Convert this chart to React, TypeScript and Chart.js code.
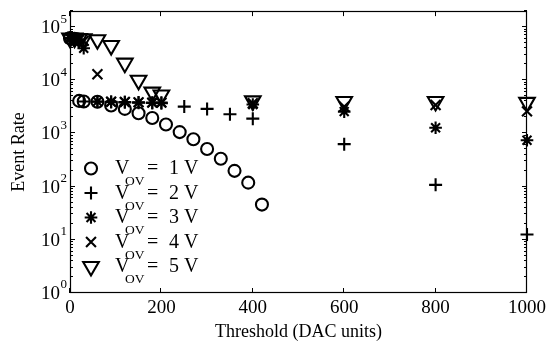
import React, { useEffect, useRef } from 'react';
import { Chart, registerables } from 'chart.js';

Chart.register(...registerables);

// ---- Data ----
const xV1 = [0, 10, 20, 30, 60, 90, 120, 150, 180, 210, 240, 270, 300, 330, 360, 390, 420];
const yV1 = [62000, 60000, 4100, 4000, 3950, 3350, 2900, 2400, 1950, 1470, 1060, 780, 510, 334, 198, 119, 46];

const xV2 = [0, 10, 20, 30, 60, 90, 120, 150, 180, 200, 250, 300, 350, 400, 600, 800, 1000];
const yV2 = [62000, 61000, 57000, 4000, 3950, 3900, 3850, 3800, 3750, 3700, 3200, 2900, 2300, 1900, 630, 108, 12.6];

const xV3 = [0, 10, 20, 30, 60, 90, 120, 150, 180, 200, 400, 600, 800, 1000];
const yV3 = [62000, 61000, 58000, 40000, 4000, 3950, 3900, 3850, 3800, 3800, 3500, 2580, 1280, 746];

const xV4 = [0, 10, 20, 30, 60, 90, 120, 150, 180, 200, 400, 600, 800, 1000];
const yV4 = [62000, 61000, 59000, 55000, 13000, 3950, 3900, 3850, 3800, 3800, 3700, 3200, 3430, 2600];

const xV5 = [0, 10, 20, 30, 60, 90, 120, 150, 180, 200, 400, 600, 800, 1000];
const yV5 = [62000, 62000, 61000, 60000, 58000, 45000, 21000, 10000, 6000, 5300, 4100, 4000, 4000, 3850];

const legendVolts = ['1', '2', '3', '4', '5'];
const xTickStep = 200;
const xMin = 0;
const xMax = 1000;
const yMin = 1;
const yMax = 200000;
const yExponents = [0, 1, 2, 3, 4, 5];

const SERIF = '"Liberation Serif", "DejaVu Serif", serif';
const MARKER_LW = 2.1;

type Marker = { style: string; radius: number; rotation: number };
const markers: Marker[] = [
  { style: 'circle', radius: 6, rotation: 0 },
  { style: 'cross', radius: 6.5, rotation: 0 },
  { style: 'star', radius: 6.3, rotation: 0 },
  { style: 'crossRot', radius: 7, rotation: 0 },
  { style: 'triangle', radius: 9, rotation: 180 },
];

function drawMarker(ctx: CanvasRenderingContext2D, m: Marker, x: number, y: number) {
  const r = m.radius;
  ctx.beginPath();
  if (m.style === 'circle') {
    ctx.arc(x, y, r, 0, Math.PI * 2);
  } else if (m.style === 'cross') {
    ctx.moveTo(x - r, y); ctx.lineTo(x + r, y);
    ctx.moveTo(x, y - r); ctx.lineTo(x, y + r);
  } else if (m.style === 'crossRot') {
    const d = r * Math.SQRT1_2;
    ctx.moveTo(x - d, y - d); ctx.lineTo(x + d, y + d);
    ctx.moveTo(x + d, y - d); ctx.lineTo(x - d, y + d);
  } else if (m.style === 'star') {
    ctx.moveTo(x - r, y); ctx.lineTo(x + r, y);
    ctx.moveTo(x, y - r); ctx.lineTo(x, y + r);
    const d = r * Math.SQRT1_2;
    ctx.moveTo(x - d, y - d); ctx.lineTo(x + d, y + d);
    ctx.moveTo(x + d, y - d); ctx.lineTo(x - d, y + d);
  } else if (m.style === 'triangle') {
    let rad = Math.PI;
    ctx.moveTo(x + Math.sin(rad) * r, y - Math.cos(rad) * r);
    rad += (2 * Math.PI) / 3;
    ctx.lineTo(x + Math.sin(rad) * r, y - Math.cos(rad) * r);
    rad += (2 * Math.PI) / 3;
    ctx.lineTo(x + Math.sin(rad) * r, y - Math.cos(rad) * r);
    ctx.closePath();
  }
  ctx.stroke();
}

const axesPlugin = {
  id: 'matlabAxes',
  afterDraw(chart: any) {
    const ctx: CanvasRenderingContext2D = chart.ctx;
    const { left, right, top, bottom } = chart.chartArea;
    const xs = chart.scales.x;
    const ys = chart.scales.y;
    ctx.save();
    ctx.strokeStyle = '#000';
    ctx.fillStyle = '#000';
    ctx.lineWidth = 1.2;
    ctx.strokeRect(Math.round(left) + 0.5, Math.round(top) + 0.5, Math.round(right - left) - 1, Math.round(bottom - top) - 1);
    ctx.lineWidth = 1;
    ctx.beginPath();
    for (let v = xMin; v <= xMax; v += xTickStep) {
      const px = Math.round(xs.getPixelForValue(v)) - 0.5;
      ctx.moveTo(px, bottom); ctx.lineTo(px, bottom - 5);
      ctx.moveTo(px, top); ctx.lineTo(px, top + 5);
    }
    for (const k of yExponents) {
      for (let m = 1; m <= 9; m++) {
        const v = m * Math.pow(10, k);
        if (v < yMin || v > yMax) continue;
        const py = Math.round(ys.getPixelForValue(v)) - 0.5;
        const len = m === 1 ? 5 : 3;
        ctx.moveTo(left, py); ctx.lineTo(left + len, py);
        ctx.moveTo(right, py); ctx.lineTo(right - len, py);
      }
    }
    ctx.stroke();

    for (const k of yExponents) {
      const py = ys.getPixelForValue(Math.pow(10, k));
      ctx.font = `19px ${SERIF}`;
      ctx.textAlign = 'right';
      ctx.textBaseline = 'middle';
      ctx.fillText('10', left - 10, py + 1);
      ctx.font = `13px ${SERIF}`;
      ctx.textAlign = 'left';
      ctx.fillText(String(k), left - 9.5, py - 8);
    }

    const rowY0 = 168.5;
    const rowGap = 24.5;
    ctx.lineWidth = MARKER_LW;
    legendVolts.forEach((volt, i) => {
      const cy = rowY0 + i * rowGap;
      drawMarker(ctx, markers[i], 91, cy);
      ctx.textBaseline = 'alphabetic';
      ctx.textAlign = 'left';
      ctx.font = `20px ${SERIF}`;
      ctx.fillText('V', 115, cy + 5.5);
      ctx.fillText('=', 147, cy + 5.5);
      ctx.fillText(volt, 169, cy + 5.5);
      ctx.fillText('V', 184, cy + 5.5);
      ctx.font = `13.5px ${SERIF}`;
      ctx.fillText('OV', 125, cy + 16.5);
    });
    ctx.restore();
  },
};

function makeDataset(xv: number[], yv: number[], m: Marker) {
  return {
    data: xv.map((x, i) => ({ x, y: yv[i] })),
    showLine: false,
    pointStyle: m.style,
    pointRadius: m.radius,
    pointRotation: m.rotation,
    pointBorderColor: '#000',
    pointBackgroundColor: 'rgba(0,0,0,0)',
    pointBorderWidth: MARKER_LW,
    pointHoverRadius: m.radius,
    borderColor: '#000',
    backgroundColor: 'rgba(0,0,0,0)',
    clip: false as any,
  };
}

export default function App() {
  const ref = useRef<HTMLCanvasElement | null>(null);
  useEffect(() => {
    if (!ref.current) return;
    const chart = new Chart(ref.current, {
      type: 'scatter',
      data: {
        datasets: [
          makeDataset(xV1, yV1, markers[0]),
          makeDataset(xV2, yV2, markers[1]),
          makeDataset(xV3, yV3, markers[2]),
          makeDataset(xV4, yV4, markers[3]),
          makeDataset(xV5, yV5, markers[4]),
        ] as any,
      },
      options: {
        responsive: false,
        animation: false,
        devicePixelRatio: 1,
        layout: { padding: { top: 4, right: 20, left: 0, bottom: 0 } },
        plugins: { legend: { display: false }, tooltip: { enabled: false } },
        scales: {
          x: {
            type: 'linear',
            min: xMin,
            max: xMax,
            grid: { display: false, drawTicks: false },
            border: { display: false },
            ticks: {
              stepSize: xTickStep,
              color: '#000',
              padding: 4,
              maxRotation: 0,
              font: { family: SERIF, size: 19 },
              callback: (v: any) => String(v),
            },
            title: {
              display: true,
              text: 'Threshold (DAC units)',
              color: '#000',
              font: { family: SERIF, size: 18 },
              padding: { top: 4, bottom: 4 },
            },
            afterFit: (s: any) => { s.height = 54; },
          },
          y: {
            type: 'logarithmic',
            min: yMin,
            max: yMax,
            grid: { display: false, drawTicks: false },
            border: { display: false },
            ticks: { display: false },
            title: {
              display: true,
              text: 'Event Rate',
              color: '#000',
              font: { family: SERIF, size: 18 },
              padding: { top: 8, bottom: 4 },
            },
            afterFit: (s: any) => { s.width = 70; },
          },
        },
      },
      plugins: [axesPlugin],
    });
    return () => chart.destroy();
  }, []);
  return (
    <div style={{ position: 'fixed', left: 0, top: 0, width: 550, height: 347, background: '#fff' }}>
      <canvas ref={ref} width={550} height={347} style={{ display: 'block' }} />
    </div>
  );
}
